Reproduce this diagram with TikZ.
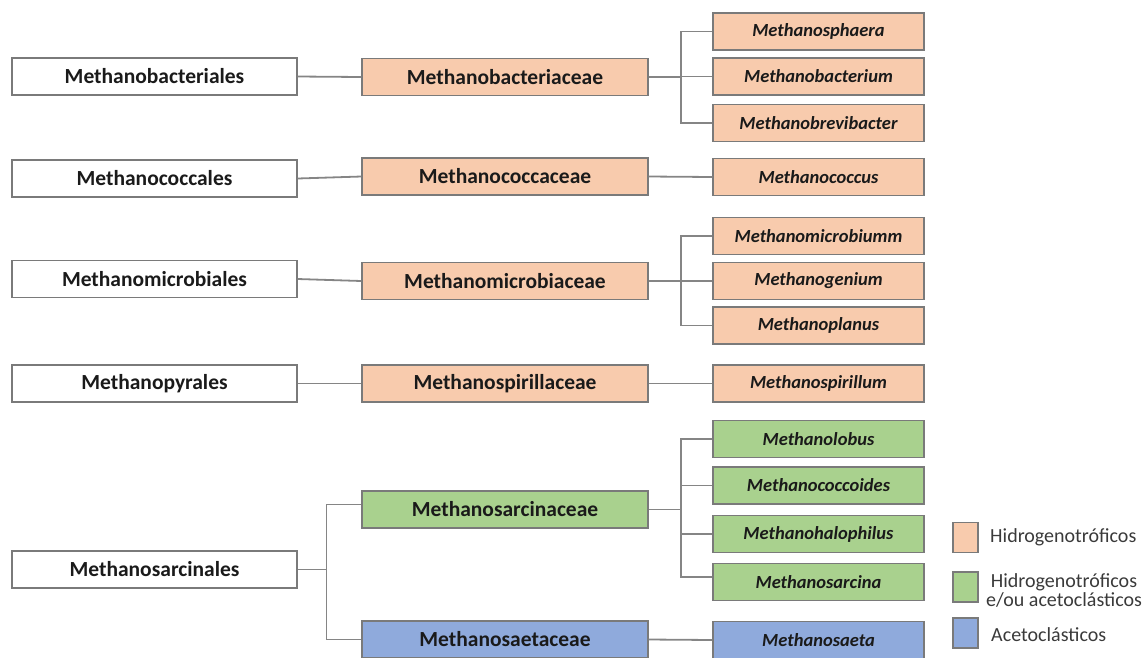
\documentclass[tikz,border=0pt]{standalone}
\usepackage{fontspec}
\setmainfont{Carlito}
\usetikzlibrary{calc}

\definecolor{hidro}{HTML}{F8CBAD}
\definecolor{misto}{HTML}{A9D18E}
\definecolor{aceto}{HTML}{8FAADC}
\definecolor{boxline}{HTML}{7A7A7A}
\definecolor{linegray}{HTML}{858585}
\definecolor{txt}{HTML}{1A1A1A}
\definecolor{legtxt}{HTML}{3A3A3A}

\begin{document}
\begin{tikzpicture}[x=1pt,y=-1pt,
  base/.style={draw=boxline, line width=1.3pt, inner sep=0pt, anchor=center, text=txt},
  ordem/.style={base, fill=white, minimum width=285pt, minimum height=37pt,
    font=\fontsize{21.5}{24}\selectfont\bfseries},
  familia/.style={base, minimum width=286pt, minimum height=37pt,
    font=\fontsize{21.5}{24}\selectfont\bfseries},
  genero/.style={base, minimum width=211pt, minimum height=37pt,
    font=\fontsize{18.5}{20}\selectfont\bfseries\itshape},
  link/.style={draw=linegray, line width=1.8pt},
  legsq/.style={draw=boxline, line width=1.3pt, minimum width=25pt, minimum height=30pt, inner sep=0pt},
  legtext/.style={text=legtxt, font=\fontsize{20}{20}\selectfont, inner sep=0pt}
]
\useasboundingbox (0,0) rectangle (1146,657);

% bracket columns
\coordinate (bl) at (326.5,0);
\coordinate (bx) at (681,0);

% orders
\node[ordem] (o1) at (154.5,76.5) {Methanobacteriales};
\node[ordem] (o2) at (154.5,178.5) {Methanococcales};
\node[ordem] (o3) at (154.5,279) {Methanomicrobiales};
\node[ordem] (o4) at (154.5,383.5) {Methanopyrales};
\node[ordem] (o5) at (154.5,569.5) {Methanosarcinales};

% families
\node[familia, fill=hidro] (f1) at (505,77) {Methanobacteriaceae};
\node[familia, fill=hidro] (f2) at (505,176.5) {Methanococcaceae};
\node[familia, fill=hidro] (f3) at (505,281) {Methanomicrobiaceae};
\node[familia, fill=hidro] (f4) at (505,383.5) {Methanospirillaceae};
\node[familia, fill=misto] (f5) at (505,509.5) {Methanosarcinaceae};
\node[familia, fill=aceto] (f6) at (505,639.5) {Methanosaetaceae};

% genera
\node[genero, fill=hidro] (g1) at (818.5,31.5) {Methanosphaera};
\node[genero, fill=hidro] (g2) at (818.5,76.5) {Methanobacterium};
\node[genero, fill=hidro] (g3) at (818.5,123) {Methanobrevibacter};
\node[genero, fill=hidro] (g4) at (818.5,177) {Methanococcus};
\node[genero, fill=hidro] (g5) at (818.5,236) {Methanomicrobiumm};
\node[genero, fill=hidro] (g6) at (818.5,281) {Methanogenium};
\node[genero, fill=hidro] (g7) at (818.5,325.5) {Methanoplanus};
\node[genero, fill=hidro] (g8) at (818.5,383.5) {Methanospirillum};
\node[genero, fill=misto] (g9) at (818.5,439) {Methanolobus};
\node[genero, fill=misto] (g10) at (818.5,485.5) {Methanococcoides};
\node[genero, fill=misto] (g11) at (818.5,534) {Methanohalophilus};
\node[genero, fill=misto] (g12) at (818.5,582) {Methanosarcina};
\node[genero, fill=aceto] (g13) at (818.5,640) {Methanosaeta};

% order -> family
\draw[link] (o1.east) -- (f1.west);
\draw[link] (o2.east) -- (f2.west);
\draw[link] (o3.east) -- (f3.west);
\draw[link] (o4.east) -- (f4.west);
\coordinate (f5in) at ([yshift=5pt]f5.west);
\draw[link] (o5.east) -- (o5.east -| bl);
\draw[link] (f5in) -| (bl |- f6.west) -- (f6.west);

% family -> genus
\draw[link] (f1.east) -- (f1.east -| bx);
\draw[link] (g1.west) -| (bx |- g3.west) -- (g3.west);
\draw[link] (g2.west) -- (g2.west -| bx);

\draw[link] (f2.east) -- (g4.west);

\draw[link] (f3.east) -- (f3.east -| bx);
\draw[link] (g5.west) -| (bx |- g7.west) -- (g7.west);
\draw[link] (g6.west) -- (g6.west -| bx);

\draw[link] (f4.east) -- (g8.west);

\coordinate (g12in) at ([yshift=5pt]g12.west);
\draw[link] (f5.east) -- (f5.east -| bx);
\draw[link] (g9.west) -| (bx |- g12in) -- (g12in);
\draw[link] (g10.west) -- (g10.west -| bx);
\draw[link] (g11.west) -- (g11.west -| bx);

\draw[link] (f6.east) -- (g13.west);

% legend
\node[legsq, fill=hidro] (k1) at (965.5,537.5) {};
\node[legsq, fill=misto] (k2) at (965.5,587) {};
\node[legsq, fill=aceto] (k3) at (965.5,633) {};
\node[legtext, anchor=west] (t1) at (990,537) {Hidrogenotróficos};
\node[legtext, align=center] (t2) at (1064,590) {Hidrogenotróficos\\[-1pt]e/ou acetoclásticos};
\node[legtext, anchor=west] (t3) at (991,635) {Acetoclásticos};
\end{tikzpicture}
\end{document}
